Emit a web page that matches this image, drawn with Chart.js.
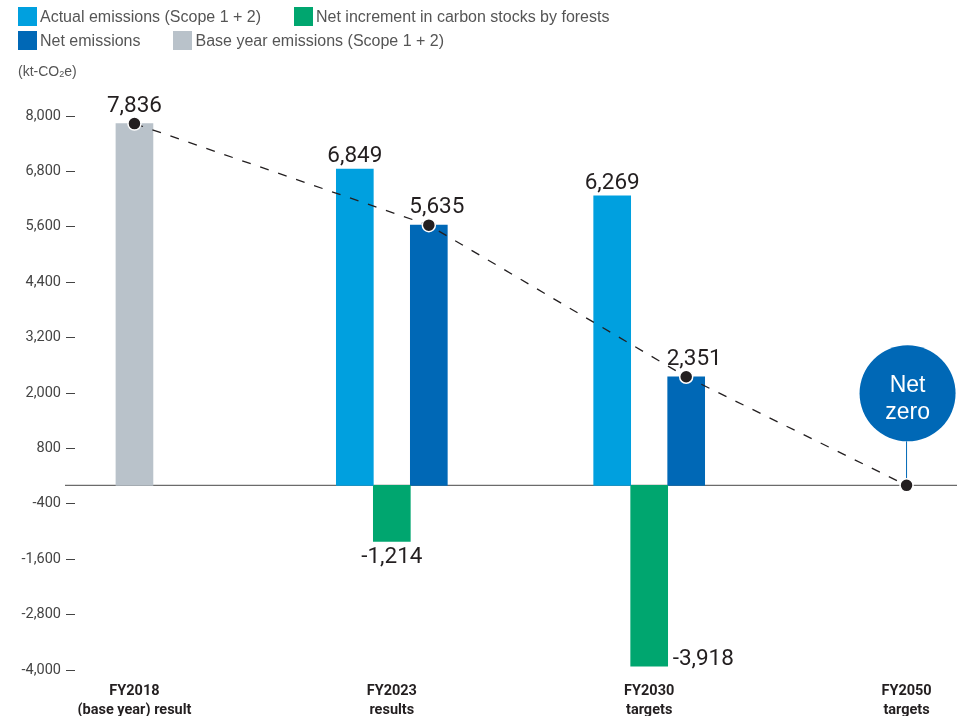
<!DOCTYPE html>
<html>
<head>
<meta charset="utf-8">
<script src="https://cdn.jsdelivr.net/npm/chart.js@4.4.1/dist/chart.umd.min.js"></script>
<style>
html,body{margin:0;padding:0;background:#fff;overflow:hidden;}
#wrap{position:relative;width:957px;height:716px;overflow:hidden;}
#chart{position:absolute;left:0;top:0;}
#legend{position:absolute;left:18px;top:7px;width:600px;display:flex;flex-wrap:wrap;column-gap:33px;row-gap:5px;
  font:16px "Liberation Sans",Arial,sans-serif;color:#555;}
.item{display:flex;align-items:center;height:19px;white-space:nowrap;}
.box{width:19px;height:19px;margin-right:3px;flex:none;}
#unit{position:absolute;left:18px;top:63px;font:14px "Liberation Sans",Arial,sans-serif;color:#555;}
#unit sub{font-size:9px;vertical-align:-1px;}
</style>
</head>
<body>
<div id="wrap">
  <canvas id="chart" width="957" height="716"></canvas>
  <div id="legend"></div>
  <div id="unit">(kt-CO<sub>2</sub>e)</div>
</div>
<script>
// ---------- data ----------
const categories = [
  ['FY2018', '(base year) result'],
  ['FY2023', 'results'],
  ['FY2030', 'targets'],
  ['FY2050', 'targets']
];
const seriesNames = [
  'Actual emissions (Scope 1 + 2)',
  'Net increment in carbon stocks by forests',
  'Net emissions',
  'Base year emissions (Scope 1 + 2)'
];
const actualEmissions   = [null, 6849, 6269, null];
const forestIncrement   = [null, -1214, -3918, null];
const netEmissions      = [null, 5635, 2351, null];
const baseYearEmissions = [7836, null, null, null];
const netZeroTarget     = [null, null, null, 0];
const yTickValues = [-4000, -2800, -1600, -400, 800, 2000, 3200, 4400, 5600, 6800, 8000];
const badgeText = ['Net', 'zero'];

// ---------- styles ----------
const C_ACTUAL = '#00a0df', C_FOREST = '#00a66f', C_NET = '#0068b6', C_BASE = '#b9c2ca';
const INK = '#231f20';

const toPts = arr => arr.map((v, i) => v == null ? null : {x: i, y: v}).filter(Boolean);

// pathway: [datasetIndex, category]
const pathway = [[3, 0], [2, 1], [2, 2]];

function findBar(chart, di, cat) {
  const meta = chart.getDatasetMeta(di);
  for (let i = 0; i < meta.data.length; i++) {
    if (meta.controller.getParsed(i).x === cat) return meta.data[i];
  }
  return null;
}
function isMarked(di, cat) {
  return pathway.some(p => p[0] === di && p[1] === cat);
}
function dot(ctx, x, y) {
  ctx.beginPath();
  ctx.arc(x, y, 6.5, 0, Math.PI * 2);
  ctx.fillStyle = INK;
  ctx.fill();
  ctx.lineWidth = 1.5;
  ctx.strokeStyle = '#fff';
  ctx.stroke();
}

const decorPlugin = {
  id: 'decor',
  beforeDatasetsDraw(chart) {
    const {ctx, chartArea} = chart;
    const y0 = chart.scales.y.getPixelForValue(0);
    ctx.save();
    ctx.strokeStyle = '#6b6b6b';
    ctx.lineWidth = 1.2;
    ctx.beginPath();
    ctx.moveTo(chartArea.left - 10, y0);
    ctx.lineTo(chart.width, y0);
    ctx.stroke();
    ctx.restore();
  },
  afterDatasetsDraw(chart) {
    const {ctx, chartArea} = chart;
    const xs = chart.scales.x, ys = chart.scales.y;
    const tgtCat = netZeroTarget.findIndex(v => v != null);
    const tx = xs.getPixelForValue(tgtCat), ty = ys.getPixelForValue(netZeroTarget[tgtCat]);
    const pts = pathway.map(p => { const el = findBar(chart, p[0], p[1]); return {x: el.x, y: el.y}; });
    pts.push({x: tx, y: ty});

    ctx.save();
    // dashed pathway
    ctx.setLineDash([9, 10]);
    ctx.strokeStyle = INK;
    ctx.lineWidth = 1.3;
    ctx.beginPath();
    pts.forEach((p, i) => i ? ctx.lineTo(p.x, p.y) : ctx.moveTo(p.x, p.y));
    ctx.stroke();
    ctx.setLineDash([]);

    // net zero badge
    const cx = tx + 1, cy = ty - 92, r = 48;
    ctx.strokeStyle = C_NET;
    ctx.lineWidth = 1;
    ctx.beginPath();
    ctx.moveTo(tx, cy + r);
    ctx.lineTo(tx, ty);
    ctx.stroke();
    ctx.beginPath();
    ctx.arc(cx, cy, r, 0, Math.PI * 2);
    ctx.fillStyle = C_NET;
    ctx.fill();
    ctx.fillStyle = '#fff';
    ctx.font = '23px "Liberation Sans", Arial, sans-serif';
    ctx.textAlign = 'center';
    ctx.textBaseline = 'alphabetic';
    ctx.fillText(badgeText[0], cx, cy - 1);
    ctx.fillText(badgeText[1], cx, cy + 26);

    // markers
    pts.forEach(p => dot(ctx, p.x, p.y));

    // value labels
    ctx.font = '22.5px Roboto, sans-serif';
    ctx.fillStyle = INK;
    chart.data.datasets.forEach((ds, di) => {
      const meta = chart.getDatasetMeta(di);
      meta.data.forEach((el, i) => {
        const parsed = meta.controller.getParsed(i);
        const v = parsed.y;
        if (v == null) return;
        const txt = v.toLocaleString('en-US');
        if (v >= 0) {
          const marked = isMarked(di, parsed.x);
          const gap = marked ? 12 : 7;
          const dx = (marked && di === 2) ? 8 : 0;
          ctx.textAlign = 'center';
          ctx.fillText(txt, el.x + dx, el.y - gap);
        } else if (el.y + 30 > chartArea.bottom) {
          ctx.textAlign = 'left';
          ctx.fillText(txt, el.x + el.width / 2 + 5, el.y - 1);
        } else {
          ctx.textAlign = 'center';
          ctx.fillText(txt, el.x, el.y + 21.5);
        }
      });
    });
    ctx.restore();
  }
};

const chart = new Chart(document.getElementById('chart'), {
  type: 'bar',
  data: {
    datasets: [
      {label: seriesNames[0], data: toPts(actualEmissions), backgroundColor: C_ACTUAL},
      {label: seriesNames[1], data: toPts(forestIncrement), backgroundColor: C_FOREST},
      {label: seriesNames[2], data: toPts(netEmissions), backgroundColor: C_NET},
      {label: seriesNames[3], data: toPts(baseYearEmissions), backgroundColor: C_BASE, grouped: false}
    ]
  },
  options: {
    responsive: false,
    animation: false,
    devicePixelRatio: 1,
    layout: {padding: {top: 116, left: 0, right: 0, bottom: 0}},
    datasets: {bar: {barThickness: 37}},
    plugins: {legend: {display: false}, tooltip: {enabled: false}},
    scales: {
      x: {
        type: 'linear', min: -0.231, max: 3.196, offset: false,
        grid: {display: false, drawTicks: false, offset: false},
        border: {display: false},
        ticks: {
          stepSize: 1, includeBounds: false, autoSkip: false, maxRotation: 0, minRotation: 0,
          padding: 11.5, color: INK,
          font: {family: 'Roboto', size: 14.5, weight: 'bold', lineHeight: 1.31},
          callback: v => Number.isInteger(v) && categories[v] ? categories[v] : ''
        },
        afterFit: s => { s.height = 46; }
      },
      y: {
        min: -4000, max: 8000,
        afterBuildTicks: s => { s.ticks = yTickValues.map(v => ({value: v})); },
        grid: {drawOnChartArea: false, drawTicks: true, tickLength: 9, color: '#444', lineWidth: 1},
        border: {display: false},
        ticks: {padding: 5, color: '#444', font: {family: 'Roboto', size: 14.5},
          callback: v => v.toLocaleString('en-US')},
        afterFit: s => { s.width = 75; }
      }
    }
  },
  plugins: [decorPlugin]
});

// HTML legend built from the chart's datasets
const lg = document.getElementById('legend');
chart.data.datasets.forEach(ds => {
  const it = document.createElement('div');
  it.className = 'item';
  const b = document.createElement('span');
  b.className = 'box';
  b.style.background = ds.backgroundColor;
  const t = document.createElement('span');
  t.textContent = ds.label;
  it.appendChild(b); it.appendChild(t);
  lg.appendChild(it);
});
</script>
</body>
</html>
